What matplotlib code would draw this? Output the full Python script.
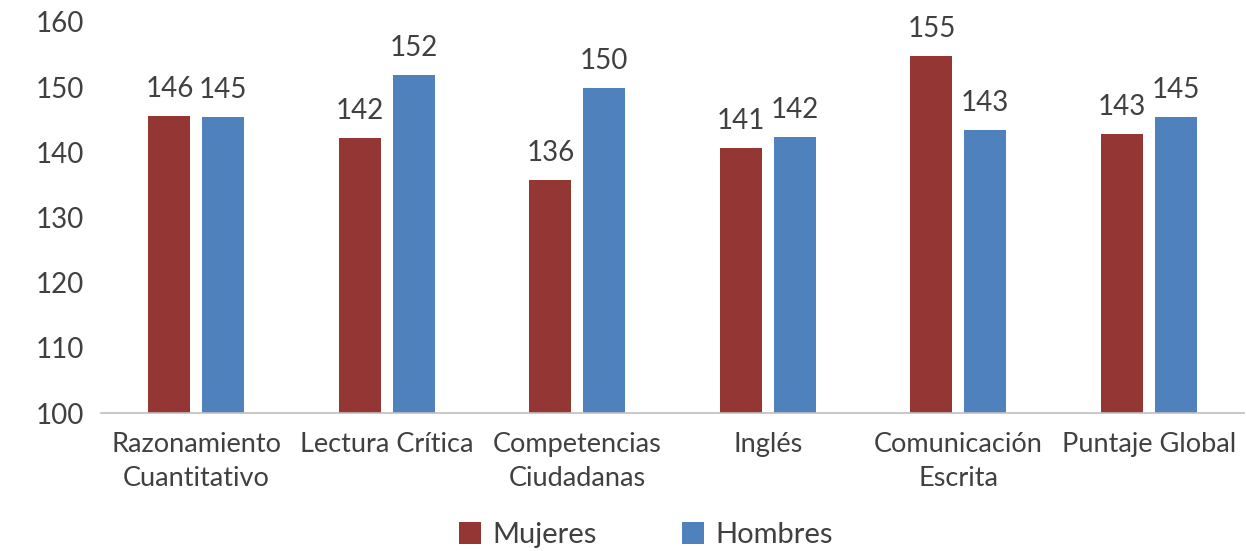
import matplotlib
matplotlib.use("Agg")
import matplotlib.pyplot as plt
import numpy as np

categories = ["Razonamiento\nCuantitativo", "Lectura Crítica", "Competencias\nCiudadanas",
              "Inglés", "Comunicación\nEscrita", "Puntaje Global"]
mujeres = [145.6, 142.2, 135.7, 140.6, 154.8, 142.8]
hombres = [145.4, 151.8, 149.8, 142.3, 143.4, 145.4]
series_names = ["Mujeres", "Hombres"]
colors = ["#943634", "#4F81BD"]

plt.rcParams['font.family'] = ['Lato', 'DejaVu Sans']

fig = plt.figure(figsize=(12.46, 5.51), dpi=100)
ax = fig.add_axes([101/1246, 1 - 413/551, (1244-101)/1246, (413-22)/551])

x = np.arange(len(categories))
w = 0.22
off = 0.141
b1 = ax.bar(x - off, mujeres, w, color=colors[0], label=series_names[0])
b2 = ax.bar(x + off, hombres, w, color=colors[1], label=series_names[1])

for bars, vals in ((b1, mujeres), (b2, hombres)):
    for b, v in zip(bars, vals):
        ax.text(b.get_x() + b.get_width()/2, v + 2.2, f"{round(v):d}",
                ha="center", va="bottom", fontsize=20, color="#404040")

ax.set_ylim(100, 160)
ax.set_xlim(-0.5, len(categories) - 0.5)
ax.set_yticks(range(100, 161, 10))
ax.set_xticks(x)
ax.set_xticklabels(categories, fontsize=19.5, color="#404040", linespacing=1.45)
ax.tick_params(axis='y', labelsize=20, labelcolor="#404040", length=0, pad=12)
ax.tick_params(axis='x', length=0, pad=14)
for s in ["top", "right", "left"]:
    ax.spines[s].set_visible(False)
ax.spines["bottom"].set_color("#BFBFBF")
ax.spines["bottom"].set_linewidth(1.2)

leg = fig.legend(handles=[b1, b2], labels=series_names, loc="center",
                 bbox_to_anchor=(646/1246, 1 - 535/551), ncol=2, frameon=False,
                 fontsize=21, handlelength=0.75, handleheight=0.75,
                 columnspacing=2.9, handletextpad=0.4)
for t in leg.get_texts():
    t.set_color("#404040")

fig.savefig("out.png", dpi=100)
